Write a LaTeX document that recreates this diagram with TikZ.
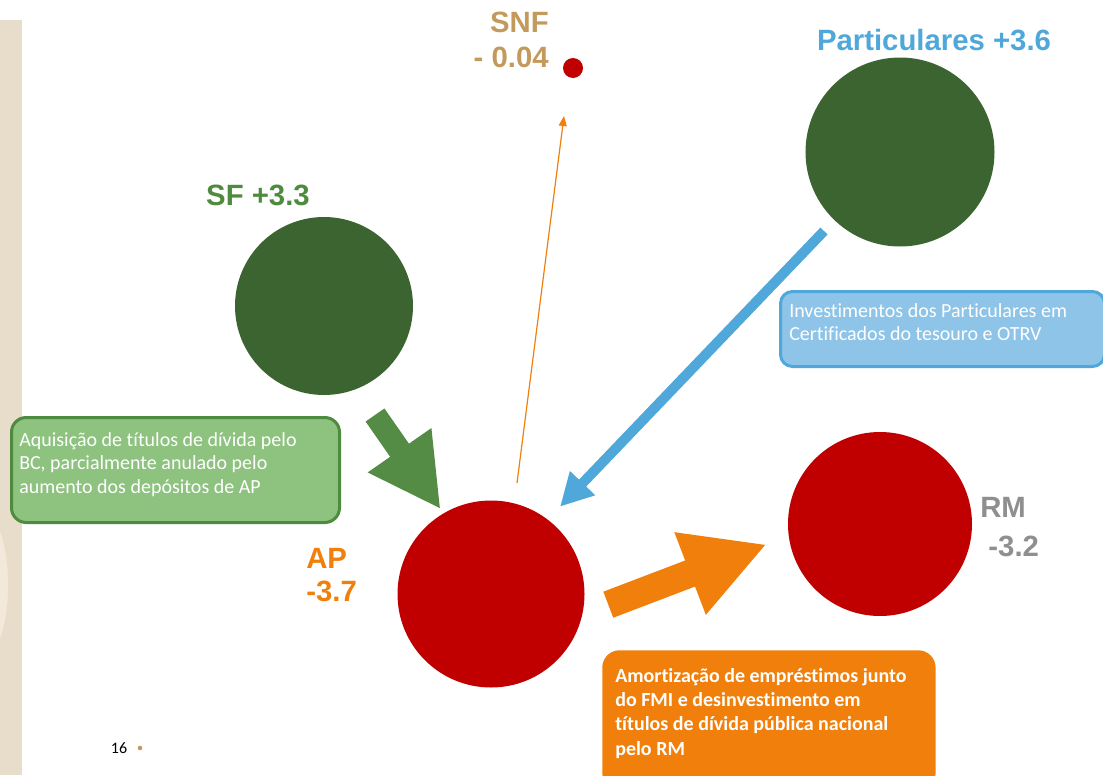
\documentclass[tikz,border=0pt]{standalone}
\usepackage{fontspec}
\setmainfont{Liberation Sans}
\newfontfamily\calfont[Ligatures=NoCommon]{Carlito}
\usetikzlibrary{arrows.meta,calc}
\definecolor{beige}{HTML}{E8DDCA}
\definecolor{tanc}{HTML}{C49A5C}
\definecolor{dkgreen}{HTML}{3C6431}
\definecolor{sfgreen}{HTML}{4E8B3F}
\definecolor{arrgreen}{HTML}{548C46}
\definecolor{boxgreen}{HTML}{8DC27F}
\definecolor{pblue}{HTML}{4FA7DA}
\definecolor{boxblue}{HTML}{8DC4E8}
\definecolor{orng}{HTML}{F07F0C}
\definecolor{redc}{HTML}{C00000}
\definecolor{grayc}{HTML}{8F8F8F}
\tikzset{
  ball/.style={circle, inner sep=0pt, draw=none},
  biglabel/.style={font=\bfseries\fontsize{22}{26}\selectfont, inner sep=0pt},
  boxtext/.style={font=\calfont\fontsize{15}{17.8}\selectfont, text=white, align=left, inner sep=0pt, anchor=north west},
  blockarrow/.style={line cap=butt},
}
\begin{document}
\begin{tikzpicture}[x=0.75pt,y=-0.75pt]
\useasboundingbox (0,0) rectangle (1103,775);
% left decorative strip
\fill[beige] (0,20) rectangle (21.5,775);
\begin{scope}
\clip (0,20) rectangle (21.5,775);
\fill[tanc!22] (-22,585) ellipse [x radius=31, y radius=80];
\draw[tanc!35, line width=1.2pt] (-22,585) ellipse [x radius=31, y radius=80];
\end{scope}

% circles
\node[ball, fill=dkgreen, minimum size=133.5pt] (sf) at (324,306) {};
\node[ball, fill=dkgreen, minimum size=141.75pt] (part) at (900,152) {};
\node[ball, fill=redc, minimum size=140.25pt] (ap) at (491,594) {};
\node[ball, fill=redc, minimum size=138pt] (rm) at (880,524) {};
\node[ball, fill=redc, minimum size=15pt] (snf) at (573,68) {};

% labels
\node[biglabel, text=sfgreen] (sfl) at (258,195) {SF +3.3};
\node[biglabel, text=pblue] (partl) at (934,40) {Particulares +3.6};
\node[biglabel, text=tanc, align=right, anchor=east] (snfl) at (549,40) {SNF\\- 0.04};
\node[biglabel, text=orng, align=left, anchor=west, font=\bfseries\fontsize{22}{25}\selectfont] (apl) at (306,575) {AP\\-3.7};
\node[biglabel, text=grayc, align=left, anchor=west, font=\bfseries\fontsize{22}{29}\selectfont] (rml) at (980,527) {RM\\~-3.2};

% boxes
\node[draw=sfgreen, fill=boxgreen, line width=2.25pt, rounded corners=11pt, minimum width=246pt, minimum height=78.75pt, anchor=north west] (gbox) at (10,416) {};
\node[boxtext] (gtext) at (19,432) {Aquisição de títulos de dívida pelo\\BC, parcialmente anulado pelo\\aumento dos depósitos de AP};

\node[draw=pblue, fill=boxblue, line width=2.25pt, rounded corners=9pt, minimum width=243pt, minimum height=56.25pt, anchor=north west] (bbox) at (779,290) {};
\node[boxtext] (btext) at (789,303) {Investimentos dos Particulares em\\Certificados do tesouro e OTRV};

\node[fill=orng, rounded corners=13pt, minimum width=250pt, minimum height=105pt, anchor=north west] (obox) at (602,650) {};
\node[boxtext, font=\calfont\bfseries\fontsize{15}{18.2}\selectfont] (otext) at (615,668) {Amortização de empréstimos junto\\do FMI e desinvestimento em\\títulos de dívida pública nacional\\pelo RM};

% arrow end points
\coordinate (gs) at (375,415);
\coordinate (ge) at (440.7,509.3);
\coordinate (bs) at (824,231);
\coordinate (be) at (560,506.7);
\coordinate (os) at (608.3,604.7);
\coordinate (oe) at (766.7,544.3);
\coordinate (ts) at (517,483);
\coordinate (te) at (564,116);

\draw[blockarrow, arrgreen, line width=17.2pt, -{Triangle[width=54pt,length=54pt]}] (gs) -- (ge);
\draw[blockarrow, pblue, line width=7.5pt, -{Triangle[width=24.5pt,length=24.5pt]}] (bs) -- (be);
\draw[blockarrow, orng, line width=20.9pt, -{Triangle[width=61.5pt,length=61.5pt]}] (os) -- (oe);
\draw[orng, line width=0.9pt, -{Triangle[width=6pt,length=7.5pt]}] (ts) -- (te);

% page number
\node[font=\calfont\fontsize{12}{14}\selectfont, inner sep=0pt] (pg) at (119,748) {16};
\fill[tanc] (140,748) circle[radius=2.3] coordinate (pgdot);
\end{tikzpicture}
\end{document}
